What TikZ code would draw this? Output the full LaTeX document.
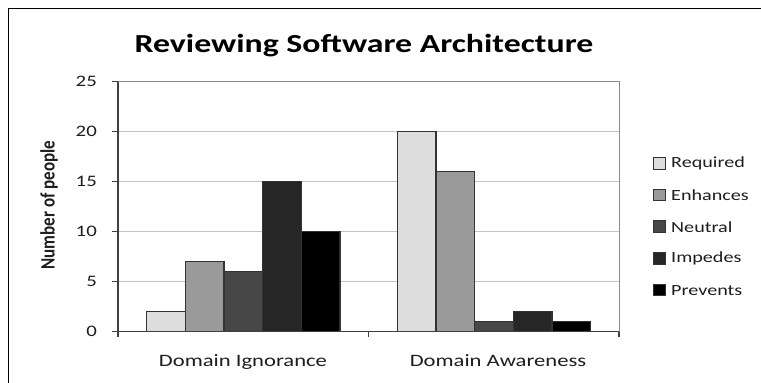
\documentclass[tikz,border=0pt]{standalone}
\usepackage{fontspec}
\setmainfont[FakeStretch=1.3]{Carlito}
\newfontfamily\plainfont{Carlito}
\usepackage{graphicx}

\definecolor{cReq}{HTML}{DDDDDD}
\definecolor{cEnh}{HTML}{9A9A9A}
\definecolor{cNeu}{HTML}{474747}
\definecolor{cImp}{HTML}{262626}
\definecolor{cPre}{HTML}{000000}
\definecolor{gridc}{HTML}{C4C4C4}
\definecolor{framec}{HTML}{8A8A8A}
\definecolor{txtc}{HTML}{1E1E1E}

\tikzset{
  gridline/.style={draw=gridc, line width=0.9pt},
  axisline/.style={draw=black!75, line width=1.2pt},
  bar/.style={draw=black!80, line width=1.2pt},
  ticklabel/.style={font=\fontsize{16}{16}\selectfont, text=txtc, anchor=east, inner sep=0pt},
  catlabel/.style={font=\fontsize{17.4}{17.4}\selectfont, text=txtc, anchor=base, inner sep=0pt},
  legtext/.style={font=\fontsize{15.5}{15.5}\selectfont, text=txtc, anchor=west, inner sep=0pt},
  legbox/.style={draw=black!80, line width=1pt},
}

\begin{document}
\begin{tikzpicture}[x=1pt,y=-1pt]
\useasboundingbox (0,0) rectangle (761,383);
\fill[white] (0,0) rectangle (761,383);

% outer frame (top and left edges)
\draw[line width=1.4pt] (8.5,383) -- (8.5,8.5) -- (761,8.5);

% title
\node[font=\bfseries\fontsize{26}{26}\selectfont, anchor=base, inner sep=0pt] (title) at (364,52.5) {Reviewing Software Architecture};

% plot area: 10px per unit, zero at y=331.7
\def\yz{331.7}
\foreach \v in {5,10,15,20}{
  \draw[gridline] (118,{\yz-10*\v}) -- (619,{\yz-10*\v});
}
\draw[draw=framec, line width=1pt] (118,{\yz-250}) -- (619,{\yz-250}) -- (619,\yz);

% bars, first category
\foreach \v/\c [count=\i from 0] in {2/cReq,7/cEnh,6/cNeu,15/cImp,10/cPre}{
  \filldraw[bar, fill=\c] ({146.7+38.65*\i},\yz) rectangle ({146.7+38.65*(\i+1)},{\yz-10*\v});
}
% bars, second category
\foreach \v/\c [count=\i from 0] in {20/cReq,16/cEnh,1/cNeu,2/cImp,1/cPre}{
  \filldraw[bar, fill=\c] ({397.3+38.65*\i},\yz) rectangle ({397.3+38.65*(\i+1)},{\yz-10*\v});
}

% axes and ticks
\draw[axisline] (118,{\yz-250}) -- (118,\yz) -- (619,\yz);
\foreach \v in {0,5,...,25}{
  \draw[axisline] (112,{\yz-10*\v}) -- (118,{\yz-10*\v});
  \node[ticklabel] (t\v) at (97,{\yz-10*\v}) {\v};
}
\foreach \xx in {118,368.5,619}{
  \draw[axisline] (\xx,\yz) -- (\xx,{\yz+5});
}

% axis titles
\node[inner sep=0pt, text=txtc] (ylab) at (49,205) {\scalebox{1.2}[1]{\rotatebox{90}{\plainfont\bfseries\fontsize{17}{17}\selectfont Number of people}}};
\node[catlabel] (cat1) at (243,366.7) {Domain Ignorance};
\node[catlabel] (cat2) at (498,366.7) {Domain Awareness};

% legend
\foreach \n/\c [count=\i from 0] in {Required/cReq,Enhances/cEnh,Neutral/cNeu,Impedes/cImp,Prevents/cPre}{
  \filldraw[legbox, fill=\c] (653,{163.3+31.7*\i-5.8}) rectangle (665,{163.3+31.7*\i+5.8});
  \node[legtext] (leg\i) at (671,{163.3+31.7*\i}) {\n};
}
\end{tikzpicture}
\end{document}
